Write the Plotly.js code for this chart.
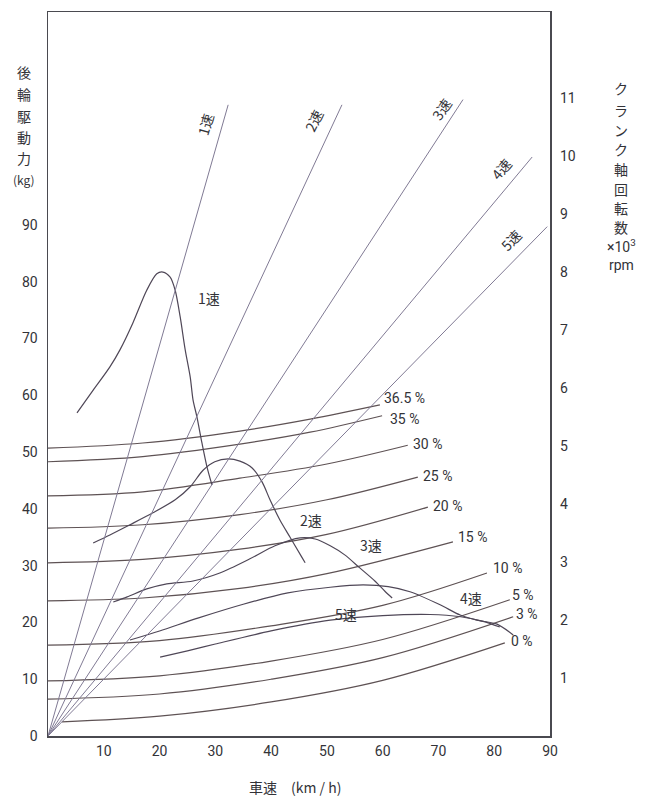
<!DOCTYPE html>
<html><head><meta charset="utf-8">
<script src="https://cdn.plot.ly/plotly-3.0.1.min.js"></script>
<style>html,body{margin:0;padding:0;background:#fff;}#chart{width:647px;height:799px;}</style>
</head><body><div id="chart"></div>
<script>
// ---- gear lines: crank rpm (x1000) vs vehicle speed ----
const gearNames = ['1速', '2速', '3速', '4速', '5速'];
const gearEndSpeed = [32.3, 52.7, 74.4, 86.8, 89.5];
const gearEndRpm = [10.88, 10.88, 10.97, 9.98, 8.78];

// ---- rear wheel driving force curves (kg) ----
const f1Speed = [5.2, 8.1, 11.1, 12.9, 15.2, 17.7, 19.5, 20.6, 21.9, 22.8, 23.7, 24.6, 25.5, 26.0, 26.7, 27.6, 28.5, 29.4];
const f1Force = [56.9, 60.9, 65.0, 68.0, 72.7, 78.5, 81.4, 81.7, 80.8, 78.5, 73.8, 68.0, 63.2, 59.2, 56.2, 51.6, 47.4, 44.2];
const f2Speed = [8.1, 11.1, 14.7, 18.8, 22.8, 25.5, 27.8, 29.9, 32.3, 34.4, 36.6, 38.4, 39.8, 41.6, 43.4, 45.5, 46.1];
const f2Force = [34.0, 35.4, 37.2, 39.3, 41.6, 43.9, 46.8, 48.3, 48.8, 48.4, 47.2, 44.7, 41.6, 38.0, 35.0, 31.5, 30.5];
const f3Speed = [11.7, 14.2, 17.7, 21.3, 26.0, 30.8, 36.2, 40.7, 45.2, 47.9, 50.6, 53.2, 55.9, 58.6, 60.4, 61.7];
const f3Force = [23.6, 24.5, 25.9, 26.8, 27.3, 28.7, 31.2, 33.5, 34.9, 34.7, 33.5, 31.9, 29.6, 27.3, 25.5, 24.3];
const f4Speed = [14.7, 20, 27, 35, 43, 50.6, 56.5, 61, 64.9, 70.3, 73.9, 76.9, 80.5, 83.4];
const f4Force = [16.9, 18.5, 20.8, 23.2, 25.2, 26.2, 26.6, 26.3, 25.4, 23.1, 21.3, 20.4, 19.7, 17.8];
const f5Speed = [20.1, 25, 30, 40, 50.6, 60, 68.5, 74, 78, 81];
const f5Force = [13.9, 15.0, 16.2, 18.5, 20.4, 21.2, 21.4, 21.0, 20.2, 19.2];
const forceLabelText = ['1速', '2速', '3速', '4速', '5速'];

// ---- running resistance on grades (kg) ----
const gradeNames = ['36.5 %', '35 %', '30 %', '25 %', '20 %', '15 %', '10 %', '5 %', '3 %', '0 %'];
const g365Speed = [0, 17, 34.4, 47, 59.5];   const g365Force = [50.7, 51.6, 53.7, 55.8, 58.3];
const g35Speed  = [0, 17, 34.4, 47, 59.9];   const g35Force  = [48.3, 49.2, 51.4, 53.5, 56.4];
const g30Speed  = [0, 17, 34.4, 50, 64.5];   const g30Force  = [42.3, 43.0, 45.4, 47.9, 51.2];
const g25Speed  = [0, 17, 34.4, 50, 66.3];   const g25Force  = [36.6, 37.2, 39.0, 41.6, 45.6];
const g20Speed  = [0, 17, 34.4, 50, 68.1];   const g20Force  = [30.5, 31.1, 32.9, 35.5, 40.3];
const g15Speed  = [0, 17, 34.4, 50, 72.6];   const g15Force  = [23.8, 24.3, 26.0, 28.6, 34.2];
const g10Speed  = [0, 20, 40, 60, 78.7];     const g10Force  = [16.0, 16.8, 19.4, 23.0, 28.7];
const g5Speed   = [0, 20, 40, 60, 82.8];     const g5Force   = [9.7, 10.6, 13.2, 17.0, 24.0];
const g3Speed   = [0, 20, 40, 60, 83.4];     const g3Force   = [6.5, 7.4, 10.0, 13.8, 21.0];
const g0Speed   = [2.5, 20, 40, 60, 81.9];   const g0Force   = [2.5, 3.5, 6.0, 9.8, 16.4];

// ---- axis ticks and titles ----
const speedTicks = [10, 20, 30, 40, 50, 60, 70, 80, 90];
const forceTicks = [0, 10, 20, 30, 40, 50, 60, 70, 80, 90];
const rpmTicks = [1, 2, 3, 4, 5, 6, 7, 8, 9, 10, 11];
const leftTitle = ['後', '輪', '駆', '動', '力', '(kg)'];
const rightTitle = ['ク', 'ラ', 'ン', 'ク', '軸', '回', '転', '数', '×10<sup>3</sup>', 'rpm'];
const xTitle = '車速　(km / h)';

const gearColor = '#807a94';
const forceColor = '#4f4757';
const gradeColor = '#5e5254';
const textColor = '#333338';
const jp = '"Noto Sans CJK JP", "Noto Sans", sans-serif';
const num = 'Roboto, "Liberation Sans", sans-serif';

const traces = [];
gearNames.forEach((g, i) => {
  traces.push({x: [0, gearEndSpeed[i]], y: [0, gearEndRpm[i]], yaxis: 'y2', mode: 'lines', name: g,
    line: {color: gearColor, width: 1}, hoverinfo: 'skip'});
});
const grades = [[g365Speed, g365Force], [g35Speed, g35Force], [g30Speed, g30Force], [g25Speed, g25Force],
  [g20Speed, g20Force], [g15Speed, g15Force], [g10Speed, g10Force], [g5Speed, g5Force], [g3Speed, g3Force], [g0Speed, g0Force]];
grades.forEach((g, i) => {
  traces.push({x: g[0], y: g[1], mode: 'lines', name: gradeNames[i],
    line: {color: gradeColor, width: 1.2, shape: 'spline', smoothing: 1}});
});
const forces = [[f1Speed, f1Force], [f2Speed, f2Force], [f3Speed, f3Force], [f4Speed, f4Force], [f5Speed, f5Force]];
forces.forEach((f, i) => {
  traces.push({x: f[0], y: f[1], mode: 'lines', name: forceLabelText[i],
    line: {color: forceColor, width: 1.2, shape: 'spline', smoothing: 0.8}});
});

const ann = [];
// gear line labels (rotated, just left of each line's end)
const gearLabelPos = [[28.2, 10.55, -74], [47.6, 10.6, -64], [70.6, 10.8, -56], [81.2, 9.78, -50], [83.0, 8.55, -46]];
gearNames.forEach((g, i) => {
  ann.push({x: gearLabelPos[i][0], y: gearLabelPos[i][1], xref: 'x', yref: 'y2', text: g, showarrow: false,
    textangle: gearLabelPos[i][2], font: {family: jp, size: 14, color: textColor}});
});
// force curve labels
const forceLabelPos = [[28.9, 77.1], [47.2, 38.0], [57.9, 33.6], [75.9, 24.3], [53.4, 21.5]];
forceLabelText.forEach((t, i) => {
  ann.push({x: forceLabelPos[i][0], y: forceLabelPos[i][1], xref: 'x', yref: 'y', text: t, showarrow: false,
    font: {family: jp, size: 14, color: textColor}});
});
// grade labels (start just right of each curve's end)
const gradeLabelOffset = [[0.3, 1.3], [1.0, -0.5], [0.5, 0.2], [0.5, 0.2], [0.6, 0.2], [0.5, 0.8], [0.7, 0.8], [0.0, 0.8], [0.2, 0.4], [0.7, 0.3]];
grades.forEach((g, i) => {
  const n = g[0].length - 1;
  ann.push({x: g[0][n] + gradeLabelOffset[i][0], y: g[1][n] + gradeLabelOffset[i][1], xref: 'x', yref: 'y',
    xanchor: 'left', text: gradeNames[i], showarrow: false, font: {family: num, size: 14, color: textColor}});
});
// vertical stacked axis titles, one glyph per annotation
const leftTitleY = [72, 94, 116, 137, 158, 180];
leftTitle.forEach((c, i) => {
  ann.push({xref: 'paper', yref: 'paper', x: (24 - 48) / 502, y: (736 - leftTitleY[i]) / 724, xanchor: 'center', yanchor: 'middle',
    text: c, showarrow: false, font: {family: jp, size: i === 5 ? 12 : 14, color: textColor}});
});
const rightTitleY = [88, 110, 130, 149, 169, 189, 208, 227, 246, 265];
rightTitle.forEach((c, i) => {
  ann.push({xref: 'paper', yref: 'paper', x: (621 - 48) / 502, y: (736 - rightTitleY[i]) / 724, xanchor: 'center', yanchor: 'middle',
    text: c, showarrow: false, font: {family: i >= 8 ? num : jp, size: i >= 8 ? 14 : 14, color: textColor}});
});
ann.push({xref: 'paper', yref: 'paper', x: (295 - 48) / 502, y: (736 - 787) / 724, xanchor: 'center', yanchor: 'middle',
  text: xTitle, showarrow: false, font: {family: jp, size: 14, color: textColor}});

const layout = {
  width: 647, height: 799,
  margin: {l: 48, r: 97, t: 12, b: 63, pad: 0},
  paper_bgcolor: '#fff', plot_bgcolor: '#fff',
  showlegend: false,
  font: {family: num, size: 14, color: textColor},
  xaxis: {range: [0, 90], tickvals: speedTicks, showgrid: false, zeroline: false, showline: true, mirror: true,
    linecolor: '#4a4a50', linewidth: 1.5, ticks: '', ticklabelstandoff: 2, fixedrange: true},
  yaxis: {range: [0, 127.5], tickvals: forceTicks, showgrid: false, zeroline: false, showline: true, mirror: true,
    linecolor: '#4a4a50', linewidth: 1.5, ticks: '', ticklabelstandoff: 6, fixedrange: true},
  yaxis2: {range: [0, 12.48], tickvals: rpmTicks, overlaying: 'y', side: 'right', showgrid: false, zeroline: false,
    showline: false, ticks: '', ticklabelstandoff: 9, fixedrange: true},
  annotations: ann
};
Plotly.newPlot('chart', traces, layout, {staticPlot: true, displayModeBar: false});
</script></body></html>
